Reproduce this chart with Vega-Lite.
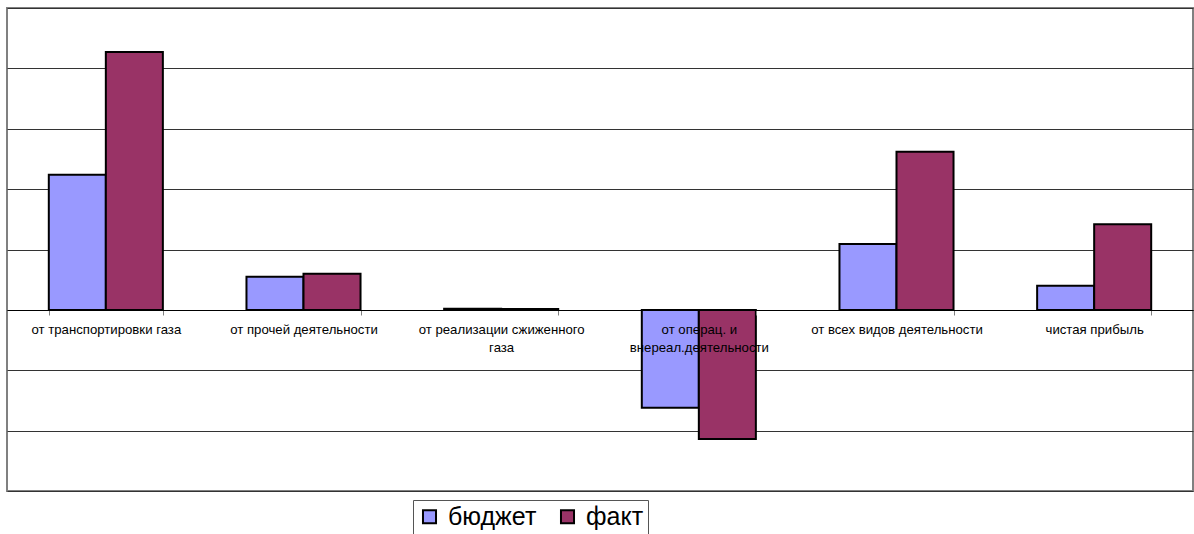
{
  "$schema": "https://vega.github.io/schema/vega-lite/v6.json",
  "width": 1186,
  "height": 483,
  "autosize": "none",
  "padding": {"left": 7, "top": 8, "right": 1, "bottom": 43},
  "background": "white",
  "config": {
    "font": "Liberation Sans",
    "view": {"stroke": "#808080", "strokeWidth": 2}
  },
  "data": {
    "values": [
      {"category": "от транспортировки газа", "series": "бюджет", "value": 2.24},
      {"category": "от транспортировки газа", "series": "факт", "value": 4.27},
      {"category": "от прочей деятельности", "series": "бюджет", "value": 0.55},
      {"category": "от прочей деятельности", "series": "факт", "value": 0.6},
      {"category": "от реализации сжиженного|газа", "series": "бюджет", "value": 0.02},
      {"category": "от реализации сжиженного|газа", "series": "факт", "value": 0.015},
      {"category": "от операц. и|внереал.деятельности", "series": "бюджет", "value": -1.62},
      {"category": "от операц. и|внереал.деятельности", "series": "факт", "value": -2.14},
      {"category": "от всех видов деятельности", "series": "бюджет", "value": 1.09},
      {"category": "от всех видов деятельности", "series": "факт", "value": 2.62},
      {"category": "чистая прибыль", "series": "бюджет", "value": 0.4},
      {"category": "чистая прибыль", "series": "факт", "value": 1.42}
    ]
  },
  "mark": {"type": "bar", "stroke": "black", "strokeWidth": 2},
  "encoding": {
    "x": {
      "field": "category",
      "type": "nominal",
      "sort": null,
      "title": null,
      "scale": {"paddingInner": 0.423, "paddingOuter": 0.2115},
      "axis": {
        "offset": -181,
        "zindex": 1,
        "labelAngle": 0,
        "labelExpr": "split(datum.label, '|')",
        "labelFontSize": 13.2,
        "labelColor": "black",
        "labelBaseline": "top",
        "labelLineHeight": 18,
        "labelPadding": 8,
        "labelLimit": 300,
        "tickBand": "extent",
        "tickSize": 5,
        "tickColor": "#808080",
        "domainColor": "black",
        "domainWidth": 1
      }
    },
    "xOffset": {"field": "series", "type": "nominal", "sort": ["бюджет", "факт"]},
    "y": {
      "field": "value",
      "type": "quantitative",
      "title": null,
      "scale": {"domain": [-3, 5], "nice": false, "zero": true},
      "axis": {
        "values": [-3, -2, -1, 0, 1, 2, 3, 4, 5],
        "labels": false,
        "ticks": false,
        "domain": false,
        "grid": true,
        "gridColor": "#333333",
        "gridOpacity": 1,
        "gridWidth": 1
      }
    },
    "color": {
      "field": "series",
      "type": "nominal",
      "sort": ["бюджет", "факт"],
      "scale": {"domain": ["бюджет", "факт"], "range": ["#9999FF", "#993366"]},
      "legend": {
        "title": null,
        "orient": "none",
        "direction": "horizontal",
        "legendX": 406,
        "legendY": 492,
        "strokeColor": "#555555",
        "padding": 4,
        "fillColor": "white",
        "symbolType": "square",
        "symbolSize": 170,
        "symbolStrokeColor": "black",
        "symbolStrokeWidth": 2,
        "symbolOpacity": 1,
        "labelFontSize": 25,
        "labelColor": "black",
        "columnPadding": 18,
        "labelOffset": 6
      }
    }
  }
}
